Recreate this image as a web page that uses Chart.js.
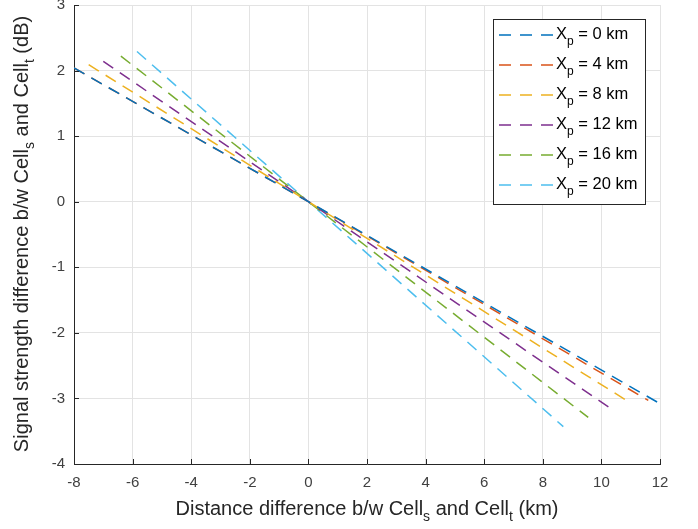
<!DOCTYPE html>
<html>
<head>
<meta charset="utf-8">
<script src="https://cdn.jsdelivr.net/npm/chart.js@4.4.1/dist/chart.umd.min.js"></script>
<style>
  html, body { margin: 0; padding: 0; background: #fff; }
  #wrap { width: 698px; height: 529px; position: relative; }
</style>
</head>
<body>
<div id="wrap"><canvas id="chart"></canvas></div>
<script>
// Xp values (km) for each curve
const xpValues = ['0', '4', '8', '12', '16', '20'];
const lineColors = ['#0072BD', '#D95319', '#EDB120', '#7E2F8E', '#77AC30', '#4DBEEE'];

// distance difference (km): start, crossing, end
const distBlue   = [-8.0, 0, 12.0];
const distOrange = [-8.0, 0, 11.6];
const distYellow = [-7.5, 0, 11.0];
const distPurple = [-7.0, 0, 10.4];
const distGreen  = [-6.4, 0, 9.55];
const distCyan   = [-5.85, 0, 8.7];

// signal strength difference (dB)
const sigBlue   = [2.04, 0, -3.08];
const sigOrange = [2.04, 0, -3.03];
const sigYellow = [2.09, 0, -3.07];
const sigPurple = [2.14, 0, -3.18];
const sigGreen  = [2.22, 0, -3.29];
const sigCyan   = [2.29, 0, -3.43];

const xTicks = [-8, -6, -4, -2, 0, 2, 4, 6, 8, 10, 12];
const yTicks = [-4, -3, -2, -1, 0, 1, 2, 3];

const allDist = [distBlue, distOrange, distYellow, distPurple, distGreen, distCyan];
const allSig = [sigBlue, sigOrange, sigYellow, sigPurple, sigGreen, sigCyan];

const FONT = '"Liberation Sans", Arial, sans-serif';
const DASH = [12, 8];

const datasets = xpValues.map((xp, i) => ({
  label: 'Xp = ' + xp + ' km',
  data: allDist[i].map((x, j) => ({ x: x, y: allSig[i][j] })),
  borderColor: lineColors[i],
  borderWidth: 1.5,
  borderDash: DASH,
  pointRadius: 0,
  showLine: true,
  fill: false
}));

// text with subscripts: measure and draw piece by piece
function subTextWidth(ctx, parts, size, subSize) {
  let w = 0;
  parts.forEach(p => {
    ctx.font = (p.sub ? subSize : size) + 'px ' + FONT;
    w += ctx.measureText(p.t).width;
  });
  return w;
}

function drawSubText(ctx, parts, x, y, size, subSize, subDrop) {
  let cx = x;
  parts.forEach(p => {
    ctx.font = (p.sub ? subSize : size) + 'px ' + FONT;
    ctx.fillText(p.t, cx, p.sub ? y + subDrop : y);
    cx += ctx.measureText(p.t).width;
  });
}

const matlabLook = {
  id: 'matlabLook',
  afterDraw(chart) {
    const ctx = chart.ctx;
    const area = chart.chartArea;
    const xs = chart.scales.x;
    const ys = chart.scales.y;
    ctx.save();

    // inward tick marks
    ctx.strokeStyle = '#262626';
    ctx.lineWidth = 1;
    ctx.beginPath();
    xTicks.forEach(v => {
      const px = Math.round(xs.getPixelForValue(v)) + 0.5;
      ctx.moveTo(px, area.bottom);
      ctx.lineTo(px, area.bottom - 5);
    });
    yTicks.forEach(v => {
      const py = Math.round(ys.getPixelForValue(v)) + 0.5;
      ctx.moveTo(area.left, py);
      ctx.lineTo(area.left + 5, py);
    });
    ctx.stroke();

    // axis titles
    ctx.fillStyle = '#262626';
    ctx.textBaseline = 'middle';
    ctx.textAlign = 'left';
    const xTitle = [
      { t: 'Distance difference b/w Cell' }, { t: 's', sub: true },
      { t: ' and Cell' }, { t: 't', sub: true }, { t: ' (km)' }
    ];
    const xw = subTextWidth(ctx, xTitle, 20, 14);
    drawSubText(ctx, xTitle, 367 - xw / 2, 509, 20, 14, 8);

    const yTitle = [
      { t: 'Signal strength difference b/w Cell' }, { t: 's', sub: true },
      { t: ' and Cell' }, { t: 't', sub: true }, { t: ' (dB)' }
    ];
    const yw = subTextWidth(ctx, yTitle, 20, 14);
    ctx.save();
    ctx.translate(22, 234);
    ctx.rotate(-Math.PI / 2);
    drawSubText(ctx, yTitle, -yw / 2, 0, 20, 14, 8);
    ctx.restore();

    // legend box
    const lx = 493, ly = 19, lw = 152, lh = 185;
    ctx.fillStyle = '#fff';
    ctx.fillRect(lx, ly, lw, lh);
    ctx.strokeStyle = '#262626';
    ctx.lineWidth = 1;
    ctx.strokeRect(lx + 0.5, ly + 0.5, lw, lh);
    xpValues.forEach((xp, i) => {
      const cy = 35 + i * 30;
      ctx.strokeStyle = lineColors[i];
      ctx.lineWidth = 1.5;
      ctx.setLineDash([12, 9]);
      ctx.beginPath();
      ctx.moveTo(499, cy);
      ctx.lineTo(554, cy);
      ctx.stroke();
      ctx.setLineDash([]);
      ctx.fillStyle = '#000';
      drawSubText(ctx, [{ t: 'X' }, { t: 'p', sub: true }, { t: ' = ' + xp + ' km' }],
        556, cy - 1, 16.5, 12, 8);
    });
    ctx.restore();
  }
};

new Chart(document.getElementById('chart'), {
  type: 'scatter',
  data: { datasets: datasets },
  plugins: [matlabLook],
  options: {
    responsive: true,
    maintainAspectRatio: false,
    animation: false,
    layout: { padding: { top: 5, right: 38, left: 0, bottom: 0 } },
    plugins: {
      legend: { display: false },
      tooltip: { enabled: false }
    },
    scales: {
      x: {
        type: 'linear',
        min: -8,
        max: 12,
        afterBuildTicks: s => { s.ticks = xTicks.map(v => ({ value: v })); },
        afterFit: s => { s.height = 65; s.paddingLeft = 0; s.paddingRight = 0; },
        ticks: { color: '#404040', font: { family: FONT, size: 15 }, padding: 10, maxRotation: 0 },
        grid: { color: '#e3e3e3', drawTicks: false },
        border: { color: '#262626', width: 1 }
      },
      y: {
        type: 'linear',
        min: -4,
        max: 3,
        afterBuildTicks: s => { s.ticks = yTicks.map(v => ({ value: v })); },
        afterFit: s => { s.width = 74; s.paddingTop = 0; s.paddingBottom = 0; },
        ticks: { color: '#404040', font: { family: FONT, size: 15 }, padding: 9 },
        grid: { color: '#e3e3e3', drawTicks: false },
        border: { color: '#262626', width: 1 }
      }
    }
  }
});
</script>
</body>
</html>
